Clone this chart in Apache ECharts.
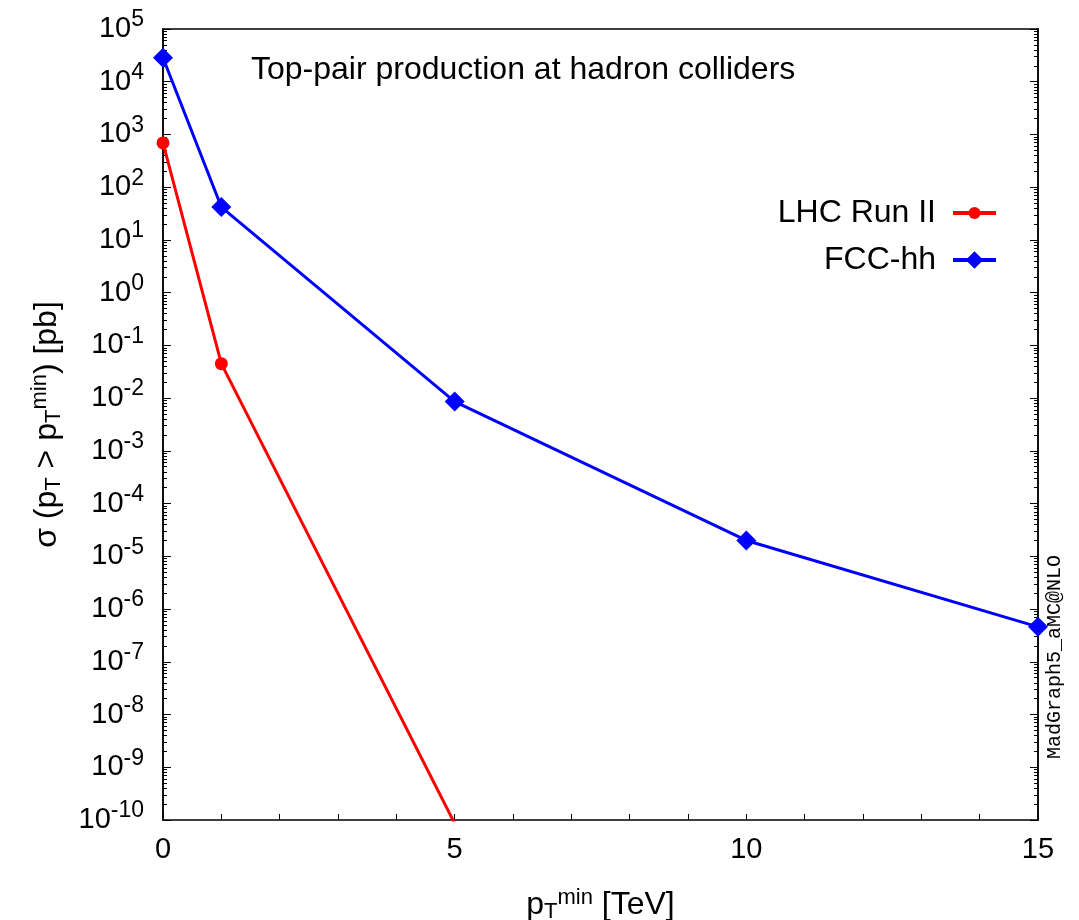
<!DOCTYPE html>
<html>
<head>
<meta charset="utf-8">
<script src="https://cdn.jsdelivr.net/npm/echarts@6/dist/echarts.min.js"></script>
<style>
html,body{margin:0;padding:0;background:#fff;}
#chart{width:1079px;height:920px;}
</style>
</head>
<body>
<div id="chart"></div>
<script>
// ---- data ----
const lhcX = [0, 1, 5];
const lhcY = [690, 0.045, 8.6e-11];
const fccX = [0, 1, 5, 10, 15];
const fccY = [2.85e4, 42, 8.6e-3, 2.0e-5, 4.6e-7];
const seriesNames = ['LHC Run II', 'FCC-hh'];
const yDecades = [-10, -9, -8, -7, -6, -5, -4, -3, -2, -1, 0, 1, 2, 3, 4, 5];
const xTicks = [0, 5, 10, 15];
const titleText = 'Top-pair production at hadron colliders';
const creditText = 'MadGraph5_aMC@NLO';

const FONT = '"Liberation Sans", Arial, Helvetica, sans-serif';
const majorVals = yDecades.map(e => Math.pow(10, e));
const minorVals = [];
yDecades.slice(0, -1).forEach(e => { for (let m = 2; m <= 9; m++) minorVals.push(m * Math.pow(10, e)); });

const chart = echarts.init(document.getElementById('chart'), null, {renderer: 'canvas'});

const rich = {
  b: {fontSize: 29, fontFamily: FONT, color: '#000', lineHeight: 30, verticalAlign: 'middle'},
  s: {fontSize: 23, fontFamily: FONT, color: '#000', verticalAlign: 'bottom', padding: [0, 0, 18, 0]}
};
const nameRich = {
  b: {fontSize: 32, fontFamily: FONT, color: '#000', lineHeight: 36},
  sub: {fontSize: 22, fontFamily: FONT, color: '#000', lineHeight: 20, verticalAlign: 'bottom'},
  sup: {fontSize: 22, fontFamily: FONT, color: '#000', lineHeight: 20, verticalAlign: 'top'}
};

function yAxisBase(pos, vals, len, labels) {
  return {
    type: 'log', logBase: 10, min: 1e-10, max: 1e5, position: pos,
    axisLine: {show: true, onZero: false, lineStyle: {color: '#000', width: 1.5}},
    axisTick: {show: true, inside: true, length: len, customValues: vals, lineStyle: {color: '#000', width: 1}},
    splitLine: {show: false},
    axisLabel: labels ? {
      show: true, customValues: vals, margin: 19,
      formatter: v => '{b|10}{s|' + Math.round(Math.log10(v)) + '}',
      rich: rich
    } : {show: false}
  };
}

const left = yAxisBase('left', majorVals, 8, true);
left.name = '{b|σ (p}{sub|T}{b| > p}{sub|T}{sup|min}{b|) [pb]}';
left.nameLocation = 'middle';
left.nameRotate = 90;
left.nameGap = 98;
left.nameTextStyle = {rich: nameRich};

const legendCommon = {
  right: 76, orient: 'vertical', align: 'right',
  itemWidth: 43, itemGap: 10,
  lineStyle: {width: 4},
  textStyle: {fontSize: 32, fontFamily: FONT, color: '#000', padding: [0, 12, 0, 0]}
};

const option = {
  animation: false,
  backgroundColor: '#fff',
  grid: {left: 163, right: 41, top: 29, bottom: 100, containLabel: false, outerBoundsMode: 'none'},
  xAxis: [{
    type: 'value', min: 0, max: 15, interval: 5, position: 'bottom',
    axisLine: {show: true, onZero: false, lineStyle: {color: '#000', width: 1.5}},
    axisTick: {show: true, inside: true, length: 6, lineStyle: {color: '#000', width: 1}},
    minorTick: {show: true, splitNumber: 5, length: 6, lineStyle: {color: '#000', width: 1}},
    splitLine: {show: false},
    axisLabel: {show: true, margin: 15, fontSize: 29, fontFamily: FONT, color: '#000'},
    name: '{b|p}{sub|T}{sup|min}{b| [TeV]}',
    nameLocation: 'middle', nameGap: 67,
    nameTextStyle: {rich: nameRich}
  }, {
    type: 'value', min: 0, max: 15, position: 'top',
    axisLine: {show: true, onZero: false, lineStyle: {color: '#000', width: 1.5}},
    axisTick: {show: false}, axisLabel: {show: false}, splitLine: {show: false}
  }],
  yAxis: [
    left,
    yAxisBase('left', minorVals, 4, false),
    yAxisBase('right', majorVals, 8, false),
    yAxisBase('right', minorVals, 4, false)
  ],
  legend: [
    Object.assign({}, legendCommon, {data: [seriesNames[0]], top: 192, itemHeight: 15}),
    Object.assign({}, legendCommon, {data: [seriesNames[1]], top: 239, itemHeight: 22})
  ],
  graphic: [{
    type: 'text', left: 251, top: 54,
    style: {text: titleText, font: '32px ' + FONT, fill: '#000'}
  }, {
    type: 'text', x: 1055, y: 657, rotation: Math.PI / 2,
    style: {text: creditText, font: '20px "Liberation Mono", "DejaVu Sans Mono", monospace', fill: '#000',
            align: 'center', verticalAlign: 'middle'}
  }],
  series: [{
    name: seriesNames[0], type: 'line', xAxisIndex: 0, yAxisIndex: 0,
    data: lhcX.map((x, i) => [x, lhcY[i]]),
    symbol: 'circle', symbolSize: 13, clip: true,
    lineStyle: {color: '#ff0000', width: 3},
    itemStyle: {color: '#ff0000'}
  }, {
    name: seriesNames[1], type: 'line', xAxisIndex: 0, yAxisIndex: 0,
    data: fccX.map((x, i) => [x, fccY[i]]),
    symbol: 'diamond', symbolSize: 20, clip: true,
    lineStyle: {color: '#0000ff', width: 3},
    itemStyle: {color: '#0000ff'}
  }]
};
chart.setOption(option);
</script>
</body>
</html>
